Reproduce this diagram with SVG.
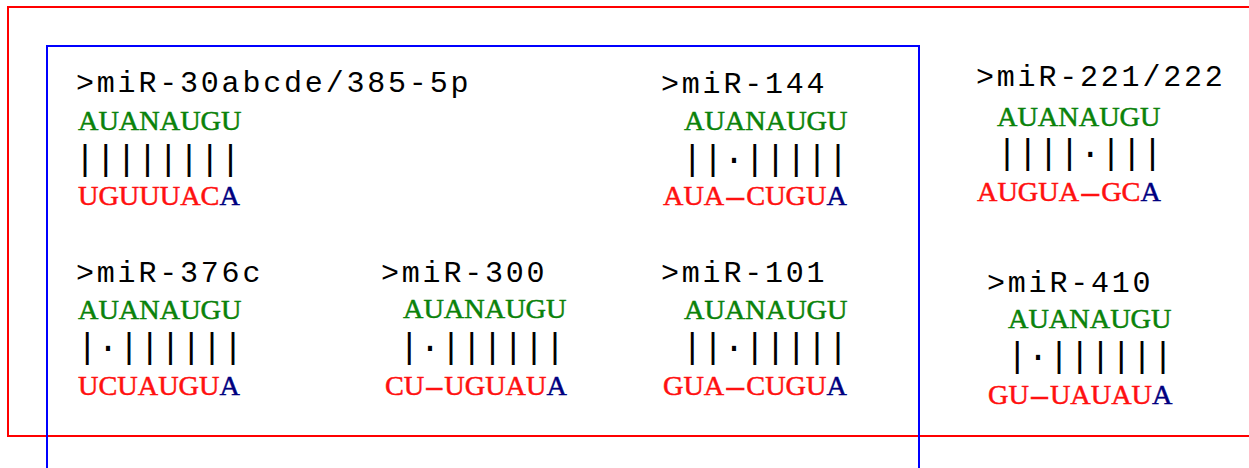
<svg xmlns="http://www.w3.org/2000/svg" width="1249" height="468" viewBox="0 0 1249 468">
<style>
.hdr{font-family:"Liberation Mono","DejaVu Sans Mono",monospace;font-size:30px;letter-spacing:2.8px;fill:#000}
.bar{font-family:"Liberation Mono","DejaVu Sans Mono",monospace;font-size:35px;letter-spacing:-0.2px;fill:#000}
.seq{font-family:"Liberation Serif","Times New Roman",serif;font-size:28.3px;stroke-width:0.5px}
.g{fill:#0a820a;stroke:#0a820a}
.r{fill:#ff1010;stroke:#ff1010}
.b{fill:#000080;stroke:#000080}
.frame{fill:none;stroke-width:2}
</style>
<rect class="frame" x="8" y="7" width="1260" height="429" stroke="#ff0000"/>
<rect class="frame" x="47" y="46" width="872" height="440" stroke="#0000ff"/>

<g id="mir-30">
<text class="hdr" x="76" y="92">&gt;miR-30abcde/385-5p</text>
<text class="seq g" x="78" y="130">AUANAUGU</text>
<text class="bar" x="74.5" y="170">||||||||</text>
<text class="seq r" x="78" y="205">UGUUUAC<tspan class="b">A</tspan></text>
</g>

<g id="mir-144">
<text class="hdr" x="661" y="93">&gt;miR-144</text>
<text class="seq g" x="684" y="130">AUANAUGU</text>
<text class="bar" x="681.8" y="170">||·|||||</text>
<text class="seq r" x="663" y="205">AUA<tspan textLength="22" lengthAdjust="spacingAndGlyphs">-</tspan>CUGU<tspan class="b">A</tspan></text>
</g>

<g id="mir-221-222">
<text class="hdr" x="976" y="86">&gt;miR-221/222</text>
<text class="seq g" x="997" y="126">AUANAUGU</text>
<text class="bar" x="996.5" y="164">||||·|||</text>
<text class="seq r" x="977" y="200.5">AUGUA<tspan textLength="22" lengthAdjust="spacingAndGlyphs">-</tspan>GC<tspan class="b">A</tspan></text>
</g>

<g id="mir-376c">
<text class="hdr" x="76" y="282">&gt;miR-376c</text>
<text class="seq g" x="78" y="319">AUANAUGU</text>
<text class="bar" x="76.8" y="358">|·||||||</text>
<text class="seq r" x="78" y="395">UCUAUGU<tspan class="b">A</tspan></text>
</g>

<g id="mir-300">
<text class="hdr" x="381" y="282">&gt;miR-300</text>
<text class="seq g" x="403" y="318">AUANAUGU</text>
<text class="bar" x="398.8" y="358">|·||||||</text>
<text class="seq r" x="385" y="395">CU<tspan textLength="20" lengthAdjust="spacingAndGlyphs">-</tspan>UGUAU<tspan class="b">A</tspan></text>
</g>

<g id="mir-101">
<text class="hdr" x="661" y="282">&gt;miR-101</text>
<text class="seq g" x="684" y="319">AUANAUGU</text>
<text class="bar" x="681.8" y="358">||·|||||</text>
<text class="seq r" x="663" y="395">GUA<tspan textLength="22" lengthAdjust="spacingAndGlyphs">-</tspan>CUGU<tspan class="b">A</tspan></text>
</g>

<g id="mir-410">
<text class="hdr" x="987" y="291.7">&gt;miR-410</text>
<text class="seq g" x="1008" y="328">AUANAUGU</text>
<text class="bar" x="1006.8" y="367">|·||||||</text>
<text class="seq r" x="988" y="404">GU<tspan textLength="21" lengthAdjust="spacingAndGlyphs">-</tspan>UAUAU<tspan class="b">A</tspan></text>
</g>
</svg>
